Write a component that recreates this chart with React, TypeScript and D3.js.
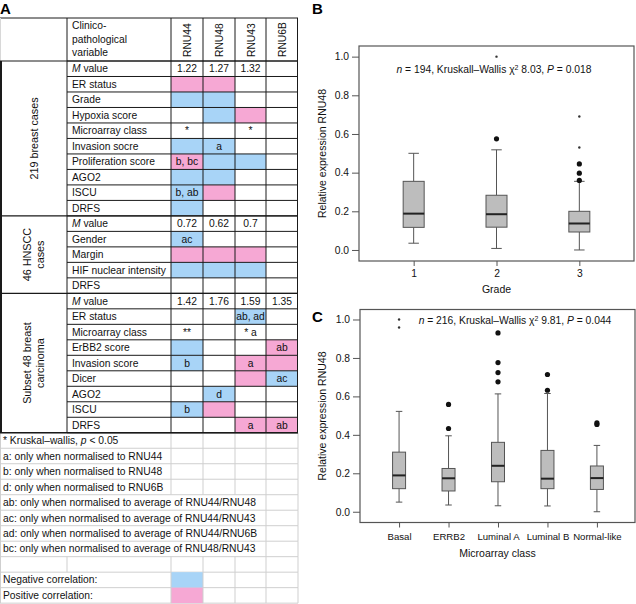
import React, { useEffect, useRef } from "react";
import * as d3 from "d3";

const FONT = "'Liberation Sans', Arial, Helvetica, sans-serif";
const BLUE = "#a8d4f7";
const PINK = "#f6a8d4";

// ---- table data ----
const rnuNames = ["RNU44", "RNU48", "RNU43", "RNU6B"];
const headerLines = ["Clinico-", "pathological", "variable"];

const groupLabels = [["219 breast cases"], ["46 HNSCC", "cases"], ["Subset 48 breast", "carcinoma"]];

const breastVars = ["M value", "ER status", "Grade", "Hypoxia score", "Microarray class", "Invasion socre", "Proliferation score", "AGO2", "ISCU", "DRFS"];
const breastText = [["1.22", "1.27", "1.32", ""], ["", "", "", ""], ["", "", "", ""], ["", "", "", ""], ["*", "", "*", ""], ["", "a", "", ""], ["b, bc", "", "", ""], ["", "", "", ""], ["b, ab", "", "", ""], ["", "", "", ""]];
const breastSign = [["", "", "", ""], ["p", "p", "", ""], ["n", "n", "", ""], ["", "n", "p", ""], ["", "", "", ""], ["n", "n", "", ""], ["p", "n", "n", ""], ["n", "n", "", ""], ["n", "p", "", ""], ["n", "", "", ""]];

const hnsccVars = ["M value", "Gender", "Margin", "HIF nuclear intensity", "DRFS"];
const hnsccText = [["0.72", "0.62", "0.7", ""], ["ac", "", "", ""], ["", "", "", ""], ["", "", "", ""], ["", "", "", ""]];
const hnsccSign = [["", "", "", ""], ["n", "", "", ""], ["p", "p", "p", ""], ["n", "n", "n", ""], ["", "", "", ""]];

const subsetVars = ["M value", "ER status", "Microarray class", "ErBB2 score", "Invasion score", "Dicer", "AGO2", "ISCU", "DRFS"];
const subsetText = [["1.42", "1.76", "1.59", "1.35"], ["", "", "ab, ad", ""], ["**", "", "* a", ""], ["", "", "", "ab"], ["b", "", "a", ""], ["", "", "", "ac"], ["", "d", "", ""], ["b", "", "", ""], ["", "", "a", "ab"]];
const subsetSign = [["", "", "", ""], ["", "", "n", ""], ["", "", "", ""], ["n", "", "", "p"], ["n", "", "p", "p"], ["", "", "p", "n"], ["", "n", "", ""], ["n", "p", "", ""], ["", "", "p", "p"]];

const shortNotes = ["* Kruskal\u2013wallis, |p| < 0.05", "a: only when normalised to RNU44", "b: only when normalised to RNU48", "d: only when normalised to RNU6B"];
const longNotes = ["ab: only when normalised to average of RNU44/RNU48", "ac: only when normalised to average of RNU44/RNU43", "ad: only when normalised to average of RNU44/RNU6B", "bc: only when normalised to average of RNU48/RNU43"];
const legendLabels = ["Negative correlation:", "Positive correlation:"];
const legendSigns = ["n", "p"];

// ---- box plot data (min, q1, median, q3, max) ----
const gradeCats = ["1", "2", "3"];
const gradeStats = [[0.035, 0.117, 0.188, 0.355, 0.5], [0.008, 0.118, 0.185, 0.283, 0.518], [0.0, 0.093, 0.137, 0.2, 0.355]];
const gradeOutliers = [[], [0.575], [0.36, 0.397, 0.445]];
const gradeFar = [[], [1.0], [0.53, 0.69]];

const classCats = ["Basal", "ERRB2", "Luminal A", "Luminal B", "Normal-like"];
const classStats = [[0.05, 0.12, 0.189, 0.31, 0.522], [0.035, 0.108, 0.174, 0.225, 0.395], [0.031, 0.156, 0.239, 0.361, 0.613], [0.03, 0.12, 0.172, 0.319, 0.615], [0.0, 0.116, 0.175, 0.238, 0.345]];
const classOutliers = [[], [0.433, 0.558], [0.676, 0.724, 0.776, 0.93], [0.632, 0.714], [0.454, 0.462]];
const classFar = [[0.958, 1.0], [], [], [], []];

const COLS = [0, 67, 171, 203, 235, 266, 298];
const TABLE_TOP = 18;
const HEAD_BOTTOM = 61;
const ROW_H = 15.49;

const signColour = (s) => (s === "n" ? BLUE : s === "p" ? PINK : null);

const DrawLine = (svg, x1, y1, x2, y2, colour, width = 1) => {
  svg.append("line")
    .attr("x1", x1).attr("y1", y1).attr("x2", x2).attr("y2", y2)
    .style("stroke", colour)
    .style("stroke-width", width);
};

// text with |italic| parts
const AddText = (svg, x, y, str, anchor = "start", size = 10.3) => {
  const t = svg.append("text")
    .attr("x", x).attr("y", y)
    .attr("text-anchor", anchor)
    .attr("font-size", size)
    .attr("font-family", FONT)
    .attr("fill", "#111");
  str.split("|").forEach((part, i) => {
    if (!part) return;
    const ts = t.append("tspan").text(part);
    if (i % 2 === 1) ts.attr("font-style", "italic");
  });
  return t;
};

const DrawTable = (svg) => {
  const groups = [
    { label: groupLabels[0], vars: breastVars, text: breastText, sign: breastSign },
    { label: groupLabels[1], vars: hnsccVars, text: hnsccText, sign: hnsccSign },
    { label: groupLabels[2], vars: subsetVars, text: subsetText, sign: subsetSign },
  ];
  const rowY = (r) => HEAD_BOTTOM + r * ROW_H;

  // header
  headerLines.forEach((l, i) => AddText(svg, COLS[1] + 5, 29 + i * 13.5, l));
  rnuNames.forEach((n, i) => {
    const cx = (COLS[i + 2] + COLS[i + 3]) / 2;
    svg.append("text")
      .attr("transform", `translate(${cx + 4},${57}) rotate(-90)`)
      .attr("font-size", 10.3)
      .attr("font-family", FONT)
      .attr("fill", "#111")
      .text(n);
  });

  let r = 0;
  const groupBounds = [];
  groups.forEach((g) => {
    const start = r;
    g.vars.forEach((v, i) => {
      const y = rowY(r);
      g.sign[i].forEach((s, j) => {
        const c = signColour(s);
        if (c) svg.append("rect").attr("x", COLS[j + 2]).attr("y", y).attr("width", COLS[j + 3] - COLS[j + 2]).attr("height", ROW_H).attr("fill", c);
      });
      r++;
    });
    groupBounds.push([start, r]);
  });
  const mainRows = r;
  const mainBottom = rowY(mainRows);

  // footnote area
  const noteRows = shortNotes.length + longNotes.length + 1 + legendLabels.length;
  const grey = "#cfcfcf";
  for (let k = 0; k <= noteRows; k++) DrawLine(svg, 0, rowY(mainRows + k), COLS[6], rowY(mainRows + k), grey);
  DrawLine(svg, 0.5, mainBottom, 0.5, rowY(mainRows + noteRows), grey);
  let fr = mainRows;
  shortNotes.forEach((n) => {
    const y = rowY(fr);
    [2, 3, 4, 5, 6].forEach((c) => DrawLine(svg, COLS[c], y, COLS[c], y + ROW_H, grey));
    AddText(svg, 3, y + 11.3, n);
    fr++;
  });
  longNotes.forEach((n) => {
    const y = rowY(fr);
    [5, 6].forEach((c) => DrawLine(svg, COLS[c], y, COLS[c], y + ROW_H, grey));
    AddText(svg, 3, y + 11.3, n);
    fr++;
  });
  {
    const y = rowY(fr);
    [1, 2, 3, 4, 5, 6].forEach((c) => DrawLine(svg, COLS[c], y, COLS[c], y + ROW_H, grey));
    fr++;
  }
  legendLabels.forEach((l, i) => {
    const y = rowY(fr);
    svg.append("rect").attr("x", COLS[2]).attr("y", y).attr("width", COLS[3] - COLS[2]).attr("height", ROW_H).attr("fill", signColour(legendSigns[i]));
    [2, 3, 4, 5, 6].forEach((c) => DrawLine(svg, COLS[c], y, COLS[c], y + ROW_H, grey));
    AddText(svg, 3, y + 11.3, l);
    fr++;
  });

  // main grid
  const ink = "#1a1a1a";
  DrawLine(svg, 0, TABLE_TOP, COLS[6], TABLE_TOP, ink);
  DrawLine(svg, 0.5, TABLE_TOP, 0.5, HEAD_BOTTOM, "#d8d8d8");
  for (let k = 0; k <= mainRows; k++) DrawLine(svg, COLS[1], rowY(k), COLS[6], rowY(k), ink);
  groupBounds.forEach(([, e]) => DrawLine(svg, 0, rowY(e), COLS[6], rowY(e), ink, 1.3));
  DrawLine(svg, 0, HEAD_BOTTOM, COLS[6], HEAD_BOTTOM, ink);
  [1, 2, 3, 4, 5].forEach((c) => DrawLine(svg, COLS[c], TABLE_TOP, COLS[c], mainBottom, ink));
  DrawLine(svg, COLS[6] - 0.5, TABLE_TOP, COLS[6] - 0.5, mainBottom, ink);
  DrawLine(svg, 1, HEAD_BOTTOM, 1, mainBottom, ink, 2);

  // texts
  r = 0;
  groups.forEach((g, gi) => {
    const [s, e] = groupBounds[gi];
    const cy = (rowY(s) + rowY(e)) / 2;
    const n = g.label.length;
    g.label.forEach((l, li) => {
      const cx = 34 + (li - (n - 1) / 2) * 13;
      svg.append("text")
        .attr("transform", `translate(${cx},${cy}) rotate(-90)`)
        .attr("text-anchor", "middle")
        .attr("dy", "0.35em")
        .attr("font-size", 10.8)
        .attr("font-family", FONT)
        .attr("fill", "#111")
        .text(l);
    });
    g.vars.forEach((v, i) => {
      const y = rowY(r);
      AddText(svg, COLS[1] + 5, y + 11.3, v.replace(/^M /, "|M| "));
      g.text[i].forEach((t, j) => {
        if (t) AddText(svg, (COLS[j + 2] + COLS[j + 3]) / 2, y + 11.3, t, "middle");
      });
      r++;
    });
  });
};

const DrawBoxPanel = (svg, o) => {
  const x = d3.scaleLinear().domain(o.xDomain).range([o.left, o.right]);
  const y = d3.scaleLinear().domain(o.yDomain).range([o.bottom, o.top]);
  const grey = "#555";

  const yAxis = svg.append("g")
    .attr("transform", `translate(${o.left},0)`)
    .call(d3.axisLeft(y).tickValues([0, 0.2, 0.4, 0.6, 0.8, 1.0]).tickFormat(d3.format(".1f")).tickSize(7).tickPadding(3));
  const xAxis = svg.append("g")
    .attr("transform", `translate(0,${o.bottom})`)
    .call(d3.axisBottom(x).tickValues(o.cats.map((c, i) => i + 1)).tickFormat((d) => o.cats[d - 1]).tickSize(5).tickPadding(o.xPad));
  [yAxis, xAxis].forEach((a) => {
    a.select(".domain").remove();
    a.selectAll(".tick line").attr("stroke", grey);
    a.selectAll(".tick text").attr("font-size", 10.3).attr("font-family", FONT).attr("fill", "#111");
  });
  xAxis.selectAll(".tick text").attr("font-size", o.xFont);

  o.stats.forEach((s, i) => {
    const cx = x(i + 1);
    const hw = o.boxW / 2;
    DrawLine(svg, cx, y(s[3]), cx, y(s[4]), grey);
    DrawLine(svg, cx, y(s[1]), cx, y(s[0]), grey);
    DrawLine(svg, cx - hw / 2, y(s[4]), cx + hw / 2, y(s[4]), grey);
    DrawLine(svg, cx - hw / 2, y(s[0]), cx + hw / 2, y(s[0]), grey);
    svg.append("rect")
      .attr("x", cx - hw).attr("y", y(s[3]))
      .attr("width", o.boxW).attr("height", y(s[1]) - y(s[3]))
      .attr("fill", "#bdbdbd").attr("stroke", grey);
    DrawLine(svg, cx - hw, y(s[2]), cx + hw, y(s[2]), "#222", 2);
    o.outliers[i].forEach((v) => svg.append("circle").attr("cx", cx).attr("cy", y(v)).attr("r", 2.6).attr("fill", "#111"));
    o.far[i].forEach((v) => svg.append("circle").attr("cx", cx).attr("cy", y(v)).attr("r", 1.2).attr("fill", "#333"));
  });

  svg.append("rect")
    .attr("x", o.left).attr("y", o.top)
    .attr("width", o.right - o.left).attr("height", o.bottom - o.top)
    .attr("fill", "none").attr("stroke", grey).attr("stroke-width", 1.2);

  const t = svg.append("text")
    .attr("x", o.annX).attr("y", o.annY)
    .attr("text-anchor", "middle")
    .attr("font-size", 10.3)
    .attr("font-family", FONT)
    .attr("fill", "#111");
  t.append("tspan").attr("font-style", "italic").text("n");
  t.append("tspan").text(` = ${o.n}, ${o.test} \u03c7`);
  t.append("tspan").attr("baseline-shift", "super").attr("font-size", 7).text("2");
  t.append("tspan").text(` ${o.chi}, `);
  t.append("tspan").attr("font-style", "italic").text("P");
  t.append("tspan").text(` = ${o.p}`);

  svg.append("text")
    .attr("transform", `translate(322,${(o.top + o.bottom) / 2}) rotate(-90)`)
    .attr("text-anchor", "middle")
    .attr("dy", "0.35em")
    .attr("font-size", 10.5)
    .attr("font-family", FONT)
    .attr("fill", "#111")
    .text("Relative expression RNU48");

  svg.append("text")
    .attr("x", (o.left + o.right) / 2).attr("y", o.titleY)
    .attr("text-anchor", "middle")
    .attr("font-size", 10.5)
    .attr("font-family", FONT)
    .attr("fill", "#111")
    .text(o.title);
};

const App = () => {
  const svgRef = useRef(null);

  useEffect(() => {
    const svg = d3.select(svgRef.current);
    svg.selectAll("*").remove();

    [["A", 0, 14], ["B", 312, 14], ["C", 312, 322]].forEach(([l, px, py]) => {
      svg.append("text")
        .attr("x", px).attr("y", py)
        .attr("font-size", 15)
        .attr("font-weight", "bold")
        .attr("font-family", FONT)
        .text(l);
    });

    DrawTable(svg);

    DrawBoxPanel(svg, {
      cats: gradeCats, stats: gradeStats, outliers: gradeOutliers, far: gradeFar,
      xDomain: [0.34, 3.66], yDomain: [-0.057, 1.055],
      left: 359, right: 634, top: 46, bottom: 261, boxW: 21, xPad: 4, xFont: 10.3,
      n: 194, test: "Kruskall\u2013Wallis", chi: "8.03", p: "0.018",
      annX: 494, annY: 73, title: "Grade", titleY: 293,
    });

    DrawBoxPanel(svg, {
      cats: classCats, stats: classStats, outliers: classOutliers, far: classFar,
      xDomain: [0.21, 5.77], yDomain: [-0.056, 1.052],
      left: 360, right: 635, top: 309.5, bottom: 522.5, boxW: 13, xPad: 6, xFont: 9.6,
      n: 216, test: "Kruskal\u2013Wallis", chi: "9.81", p: "0.044",
      annX: 515, annY: 324, title: "Microarray class", titleY: 557,
    });
  }, []);

  return (
    <svg
      ref={svgRef}
      width={636}
      height={604}
      style={{ position: "absolute", left: 0, top: 0, background: "#fff" }}
    />
  );
};

export default App;
